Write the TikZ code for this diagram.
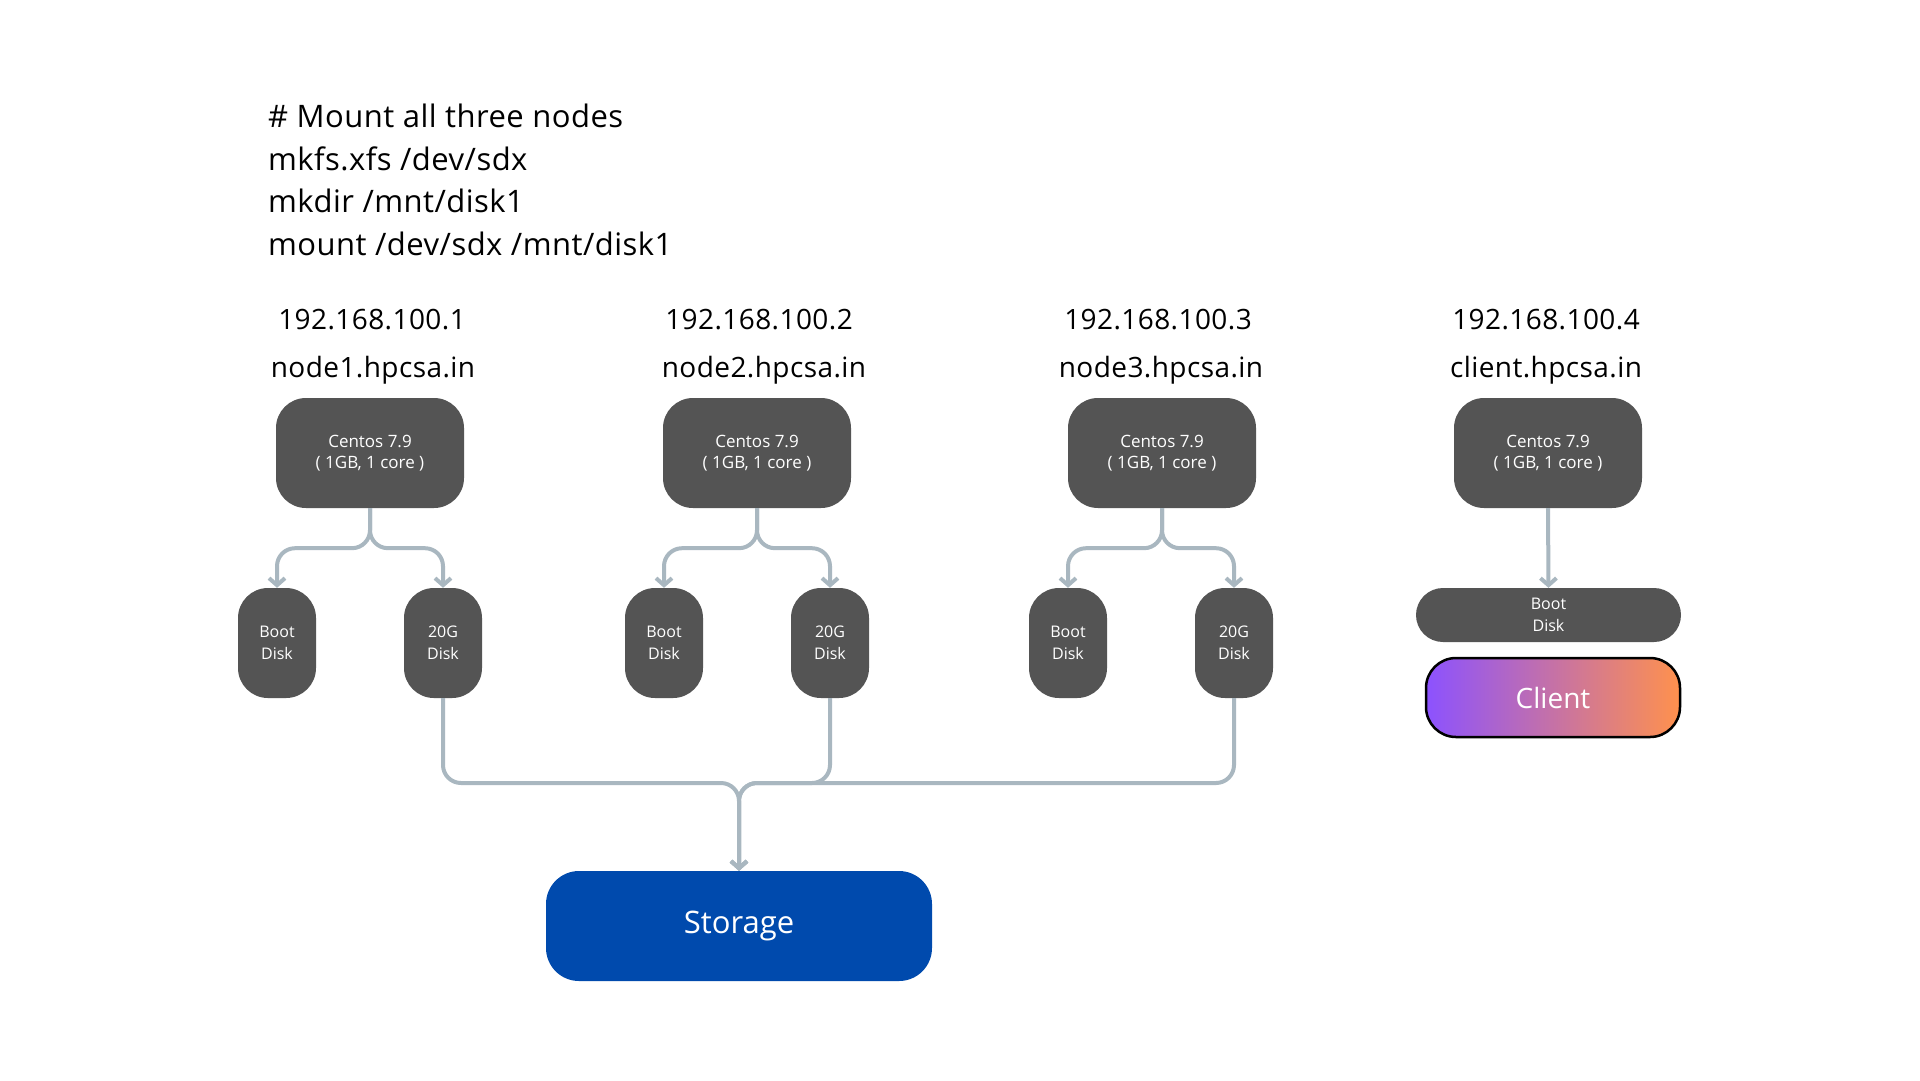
\documentclass[tikz,border=0pt]{standalone}
\usepackage{fontspec}
\setmainfont{Open Sans}
\usetikzlibrary{arrows.meta}
\definecolor{boxgray}{HTML}{545454}
\definecolor{linegray}{HTML}{A9B7C0}
\definecolor{storblue}{HTML}{004AAD}
\definecolor{gradL}{HTML}{8C52FF}
\definecolor{gradR}{HTML}{FF914D}
\tikzset{
  lbl/.style={font=\fontsize{28}{32}\selectfont\addfontfeature{LetterSpace=1.5}, anchor=base, inner sep=0pt},
  cmd/.style={font=\fontsize{31}{36}\selectfont\addfontfeature{LetterSpace=1.5}, anchor=base west, inner sep=0pt},
  osbox/.style={fill=boxgray, text=white, rounded corners=30pt, minimum width=188pt, minimum height=110pt, inner sep=0pt, align=center, font=\fontsize{17}{20.5}\selectfont},
  diskbox/.style={fill=boxgray, text=white, rounded corners=30pt, minimum width=78pt, minimum height=110pt, inner sep=0pt, align=center, font=\fontsize{16}{21.5}\selectfont},
  conn/.style={draw=linegray, line width=4pt, rounded corners=18pt},
  tip/.style={-{Straight Barb[length=7pt,width=16pt]}}
}
\begin{document}
\begin{tikzpicture}[x=1pt,y=-1pt]
\useasboundingbox[fill=white] (0,0) rectangle (1920,1080);
% commands
\node[cmd] (cmd1) at (268,127) {\# Mount all three nodes};
\node[cmd] (cmd2) at (268,170) {mkfs.xfs /dev/sdx};
\node[cmd] (cmd3) at (268,212) {mkdir /mnt/disk1};
\node[cmd] (cmd4) at (268,255) {mount /dev/sdx /mnt/disk1};
% labels
\node[lbl] (ip1) at (372,329) {192.168.100.1};
\node[lbl] (hn1) at (373,377) {node1.hpcsa.in};
\node[lbl] (ip2) at (759,329) {192.168.100.2};
\node[lbl] (hn2) at (764,377) {node2.hpcsa.in};
\node[lbl] (ip3) at (1158,329) {192.168.100.3};
\node[lbl] (hn3) at (1161,377) {node3.hpcsa.in};
\node[lbl] (ip4) at (1546,329) {192.168.100.4};
\node[lbl] (hn4) at (1546,377) {client.hpcsa.in};
% os boxes
\node[osbox] (c1) at (370,453) {Centos 7.9\\( 1GB, 1 core )};
\node[osbox] (c2) at (757,453) {Centos 7.9\\( 1GB, 1 core )};
\node[osbox] (c3) at (1162,453) {Centos 7.9\\( 1GB, 1 core )};
\node[osbox] (c4) at (1548,453) {Centos 7.9\\( 1GB, 1 core )};
% disks
\node[diskbox] (b1) at (277,643) {Boot\\Disk};
\node[diskbox] (d1) at (443,643) {20G\\Disk};
\node[diskbox] (b2) at (664,643) {Boot\\Disk};
\node[diskbox] (d2) at (830,643) {20G\\Disk};
\node[diskbox] (b3) at (1068,643) {Boot\\Disk};
\node[diskbox] (d3) at (1234,643) {20G\\Disk};
\node[diskbox, minimum width=265pt, minimum height=54pt, rounded corners=27pt] (b4) at (1548.5,615) {Boot\\Disk};
% client
\node[draw=black, line width=2.5pt, left color=gradL, right color=gradR, rounded corners=30pt, minimum width=254pt, minimum height=79pt, inner sep=0pt, text=white, font=\fontsize{28}{34}\selectfont] (cl) at (1553,697.5) {Client};
% storage
\node[fill=storblue, rounded corners=33pt, minimum width=386pt, minimum height=110pt, inner sep=0pt, text=white, font=\fontsize{31}{37}\selectfont] (st) at (739,926) {Storage};
\coordinate (bus) at (739,783);
% connectors
\foreach \c/\b/\d in {c1/b1/d1, c2/b2/d2, c3/b3/d3}{
  \draw[conn,tip] (\c.south) -- ++(0,40) -| (\b.north);
  \draw[conn,tip] (\c.south) -- ++(0,40) -| (\d.north);
}
\draw[conn,tip] (c4.south) -- (b4.north);
\draw[conn,tip] (d1.south) |- (bus) -- (st.north);
\draw[conn,tip] (d2.south) |- (bus) -- (st.north);
\draw[conn,tip] (d3.south) |- (bus) -- (st.north);
\end{tikzpicture}
\end{document}
